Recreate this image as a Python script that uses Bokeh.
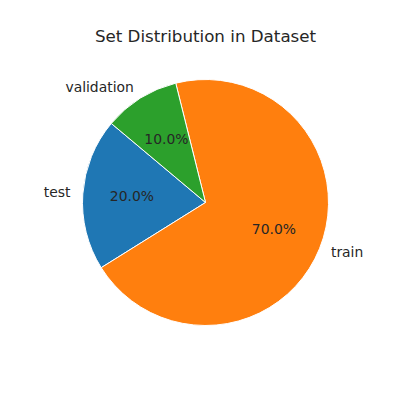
import numpy as np
from bokeh.plotting import figure
from bokeh.models import Range1d, ColumnDataSource
from bokeh.core.properties import value
from bokeh.embed import file_html
from bokeh.resources import INLINE

# --- data ---
labels = ["test", "train", "validation"]
shares = [20.0, 70.0, 10.0]
colors = ["#1f77b4", "#ff7f0e", "#2ca02c"]
title_text = "Set Distribution in Dataset"
start_angle_deg = 140

# --- geometry ---
W = H = 384
R_PX = 123.0
cx, cy = 205.0, 202.0  # pie centre in figure pixels (from top-left)

p = figure(width=W, height=H, output_backend="svg", toolbar_location=None,
           min_border=0,
           x_range=Range1d(-cx / R_PX, (W - cx) / R_PX),
           y_range=Range1d(-(H - cy) / R_PX, cy / R_PX))
p.axis.visible = False
p.grid.visible = False
p.outline_line_color = None
p.background_fill_color = "white"
p.border_fill_color = "white"

fr = np.array(shares) / sum(shares)
cum = np.concatenate([[0], np.cumsum(fr)])
starts = np.deg2rad(start_angle_deg) + 2 * np.pi * cum[:-1]
ends = np.deg2rad(start_angle_deg) + 2 * np.pi * cum[1:]
mids = (starts + ends) / 2

src = ColumnDataSource(dict(start=starts, end=ends, color=colors))
p.wedge(x=0, y=0, radius=1, start_angle="start", end_angle="end",
        direction="anticlock", fill_color="color", line_color="white",
        line_width=1, source=src)

lx = 1.1 * np.cos(mids)
ly = 1.1 * np.sin(mids)
align = ["left" if v > 0 else "right" for v in lx]
lab_src = ColumnDataSource(dict(x=lx, y=ly, t=labels, a=align))
p.text(x="x", y="y", text="t", text_align="a", text_baseline="middle",
       y_offset=-1,
       text_font=value("DejaVu Sans"), text_font_size="13.9px",
       text_color="#262626", source=lab_src)

px_ = 0.6 * np.cos(mids)
py_ = 0.6 * np.sin(mids)
pct = ["%.1f%%" % (f * 100) for f in fr]
pct_src = ColumnDataSource(dict(x=px_, y=py_, t=pct))
p.text(x="x", y="y", text="t", text_align="center", text_baseline="middle",
       y_offset=-1,
       text_font=value("DejaVu Sans"), text_font_size="13.9px",
       text_color="#262626", source=pct_src)

# title
p.text(x=[0], y=[(cy - 35) / R_PX], text=[title_text], text_align="center",
       text_baseline="middle", text_font=value("DejaVu Sans"),
       text_font_size="16.7px", text_color="#262626")

open("out.html", "w").write(file_html(p, INLINE))
